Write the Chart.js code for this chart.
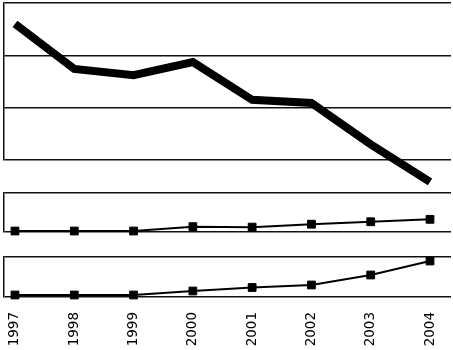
<!DOCTYPE html>
<html>
<head>
<meta charset="utf-8">
<script src="https://cdn.jsdelivr.net/npm/chart.js@4/dist/chart.umd.min.js"></script>
<style>
  html, body { margin: 0; padding: 0; background: #fff; }
  #wrap { position: relative; width: 453px; height: 350px; overflow: hidden; }
  canvas { position: absolute; left: 0; }
</style>
</head>
<body>
<div id="wrap">
  <canvas id="c1" width="453" height="200" style="top:0px"></canvas>
  <canvas id="c2" width="453" height="60" style="top:185px"></canvas>
  <canvas id="c3" width="453" height="105" style="top:245px"></canvas>
</div>
<script>
const years = [1997, 1998, 1999, 2000, 2001, 2002, 2003, 2004];
const topSeries = [2.60, 1.74, 1.62, 1.87, 1.15, 1.09, 0.30, -0.42];
const middleSeries = [0.1, 0.1, 0.1, 0.55, 0.5, 0.8, 1.05, 1.3];
const bottomSeries = [0.2, 0.2, 0.2, 0.6, 0.95, 1.2, 2.2, 3.6];
const topTicks = [0, 1, 2, 3];
const smallTicks = [0, 4];

function pts(vals) { return years.map((y, i) => ({ x: y, y: vals[i] })); }

function xScale(show) {
  return {
    type: 'linear',
    min: 1996.8145,
    max: 2004.354,
    display: show,
    afterBuildTicks: s => { s.ticks = years.map(v => ({ value: v })); },
    afterFit: s => {
      if (show) s.height = 53;
      s.paddingLeft = 0;
      s.paddingRight = 0;
    },
    grid: { display: false, drawTicks: false, drawOnChartArea: false },
    border: { display: false },
    ticks: {
      display: show,
      autoSkip: false,
      maxRotation: 90,
      minRotation: 90,
      padding: 15,
      color: '#000',
      font: { family: 'DejaVu Sans', size: 13.5 },
      callback: v => String(v)
    }
  };
}

function yScale(ticks) {
  return {
    type: 'linear',
    position: 'left',
    min: ticks[0],
    max: ticks[ticks.length - 1],
    afterBuildTicks: s => { s.ticks = ticks.map(v => ({ value: v })); },
    afterFit: s => { s.width = 0; },
    grid: { color: '#111', lineWidth: 1.5, drawTicks: false },
    border: { display: true, color: '#111', width: 1.5 },
    ticks: { display: false }
  };
}

function make(id, vals, ticks, opts) {
  new Chart(document.getElementById(id), {
    type: 'line',
    data: {
      datasets: [{
        data: pts(vals),
        borderColor: '#000',
        backgroundColor: '#000',
        borderWidth: opts.lw,
        borderJoinStyle: 'miter',
        borderCapStyle: 'butt',
        pointStyle: 'rect',
        pointRadius: opts.pr,
        pointBorderWidth: 1,
        pointBackgroundColor: '#000',
        pointBorderColor: '#000',
        clip: false,
        tension: 0
      }]
    },
    options: {
      responsive: false,
      maintainAspectRatio: false,
      animation: false,
      devicePixelRatio: 1,
      layout: { padding: opts.pad, autoPadding: false },
      plugins: { legend: { display: false }, tooltip: { enabled: false } },
      scales: { x: xScale(opts.showX), y: yScale(ticks) }
    }
  });
}

make('c1', topSeries, topTicks, { lw: 8, pr: 0, showX: false, pad: { left: 4, right: 2, top: 3, bottom: 40 } });
make('c2', middleSeries, smallTicks, { lw: 2, pr: 5.5, showX: false, pad: { left: 4, right: 2, top: 8, bottom: 13 } });
make('c3', bottomSeries, smallTicks, { lw: 2, pr: 5.5, showX: true, pad: { left: 4, right: 2, top: 12, bottom: 0 } });
</script>
</body>
</html>
